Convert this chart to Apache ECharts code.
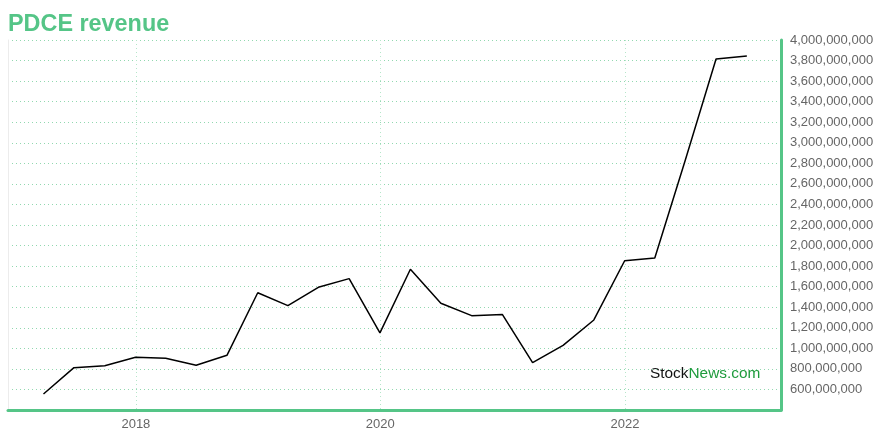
<!DOCTYPE html>
<html>
<head>
<meta charset="utf-8">
<script src="https://cdn.jsdelivr.net/npm/echarts@6/dist/echarts.min.js"></script>
<style>
html,body{margin:0;padding:0;background:#fff;}
#chart{width:880px;height:440px;}
</style>
</head>
<body>
<div id="chart"></div>
<script>
var dates = ['2017-03-31','2017-06-30','2017-09-30','2017-12-31','2018-03-31','2018-06-30','2018-09-30','2018-12-31',
  '2019-03-31','2019-06-30','2019-09-30','2019-12-31','2020-03-31','2020-06-30','2020-09-30','2020-12-31',
  '2021-03-31','2021-06-30','2021-09-30','2021-12-31','2022-03-31','2022-06-30','2022-09-30','2022-12-31'];
var revenue = [556e6, 812e6, 831e6, 913e6, 903e6, 835e6, 932e6, 1541e6,
  1415e6, 1594e6, 1678e6, 1150e6, 1769e6, 1438e6, 1318e6, 1328e6,
  860e6, 1029e6, 1276e6, 1852e6, 1879e6, 2830e6, 3815e6, 3844e6];
var xTickDates = ['2018-01-01','2020-01-01','2022-01-01'];
var xMin = '2016-12-15', xMax = '2023-04-12';
var yMin = 400e6, yMax = 4000e6, yStep = 200e6;

var green = '#55c587';
function ts(d){ return Date.UTC(+d.slice(0,4), +d.slice(5,7) - 1, +d.slice(8,10)); }
var xTicks = xTickDates.map(ts);
var chart = echarts.init(document.getElementById('chart'));
chart.setOption({
  animation: false,
  backgroundColor: '#fff',
  title: {
    text: 'PDCE revenue', left: 3, top: 8,
    textStyle: { color: green, fontSize: 23.4, fontWeight: 'bold', fontFamily: 'Liberation Sans, Arial, sans-serif' }
  },
  grid: { left: 8, right: 99, top: 40, bottom: 30 },
  xAxis: {
    type: 'value', min: ts(xMin), max: ts(xMax),
    axisLine: { show: true, lineStyle: { color: green, width: 3 } },
    axisTick: { show: false, customValues: xTicks },
    axisLabel: {
      customValues: xTicks, color: '#666', fontSize: 13, margin: 8,
      fontFamily: 'Liberation Sans, Arial, sans-serif',
      formatter: function(v){ return String(new Date(v).getUTCFullYear()); }
    },
    splitLine: { show: true, lineStyle: { color: '#b6e6ca', type: [1, 3], width: 1 } }
  },
  yAxis: [{
    type: 'value', position: 'right', min: yMin, max: yMax, interval: yStep,
    axisLine: { show: true, lineStyle: { color: green, width: 3 } },
    axisTick: { show: false },
    axisLabel: {
      color: '#666', fontSize: 13, margin: 9, showMinLabel: false,
      fontFamily: 'Liberation Sans, Arial, sans-serif',
      formatter: function(v){ return v.toLocaleString('en-US'); }
    },
    splitLine: { show: true, lineStyle: { color: '#92d8b0', type: [1, 3], width: 1 } }
  }, {
    type: 'value', position: 'left', min: yMin, max: yMax, interval: yStep,
    axisLine: { show: true, lineStyle: { color: '#ececec', width: 1 } },
    axisTick: { show: false }, axisLabel: { show: false }, splitLine: { show: false }
  }],
  graphic: [{
    type: 'text', left: 650, top: 366,
    style: {
      text: '{a|Stock}{b|News.com}',
      rich: {
        a: { fill: '#111', fontSize: 15.4, fontFamily: 'Liberation Sans, Arial, sans-serif' },
        b: { fill: '#1e9b3c', fontSize: 15.4, fontFamily: 'Liberation Sans, Arial, sans-serif' }
      }
    }
  }],
  series: [{
    type: 'line', yAxisIndex: 0, showSymbol: false, symbol: 'none',
    lineStyle: { color: '#000', width: 1.5 },
    data: dates.map(function(d, i){ return [ts(d), revenue[i]]; })
  }]
});
</script>
</body>
</html>
